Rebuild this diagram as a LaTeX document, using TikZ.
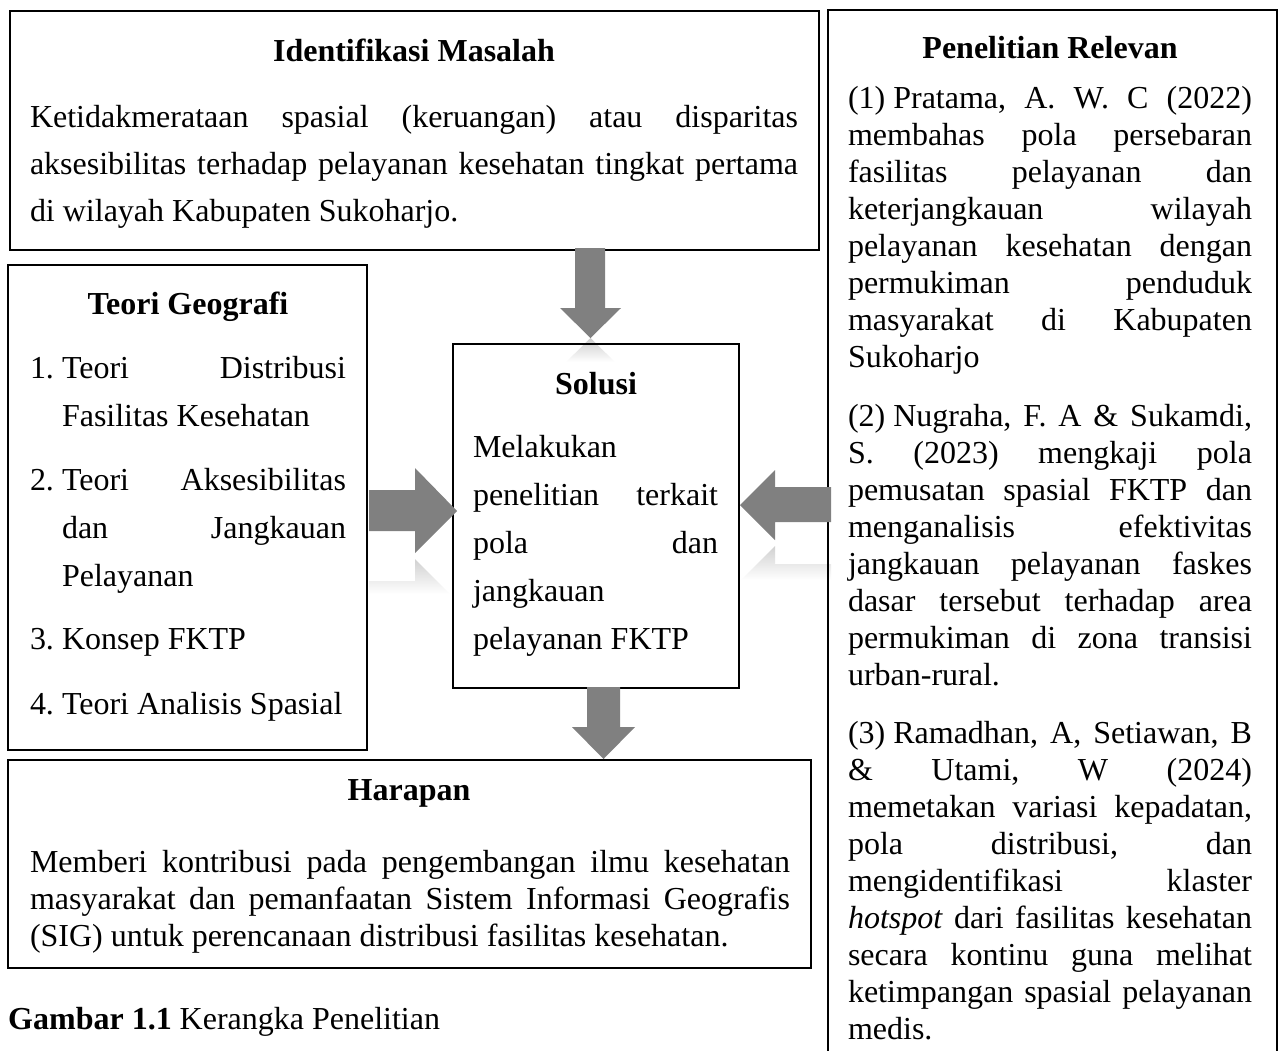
\documentclass[tikz,border=0pt]{standalone}
\usepackage{fontspec}
\setmainfont{Liberation Serif}
\usetikzlibrary{calc}
\definecolor{arrgray}{RGB}{128,128,128}
\frenchspacing
\newcommand{\rs}{\spaceskip=0pt\xspaceskip=0pt\relax}
\newcommand{\jl}[1]{\makebox[\linewidth][s]{\rs #1}}
\begin{document}
\begin{tikzpicture}[x=1pt,y=-1pt]
\tikzset{
  box/.style={draw=black,line width=1.4pt,inner sep=0pt,outer sep=0pt,anchor=north west},
  ttl/.style={inner sep=0pt,outer sep=0pt,anchor=base,font=\fontsize{32}{38}\selectfont\bfseries},
  bodytext/.style={inner sep=0pt,outer sep=0pt,anchor=base west,align=left,text width=#1},
  wide/.style={font=\fontsize{32}{47}\selectfont},
  wider/.style={font=\fontsize{32}{48}\selectfont},
  tight/.style={font=\fontsize{32}{37}\selectfont},
  blockarrow/.style={fill=arrgray,draw=none},
  refl/.style={top color=arrgray!40,bottom color=white,draw=none}
}
\useasboundingbox (0,0) rectangle (1280,1050);
\fill[white] (0,0) rectangle (1280,1050);

% reflections of the block arrows
\begin{scope}
  \clip (590.5,338) -- (621,368) -- (560,368) -- cycle;
  \shade[refl] (555,338) rectangle (625,362);
\end{scope}
\begin{scope}
  \clip (369,581) -- (415,581) -- (415,559) -- (457,601) -- (415,644) -- (415,622) -- (369,622) -- cycle;
  \shade[refl] (365,556) rectangle (460,594);
\end{scope}
\begin{scope}
  \clip (831,564) -- (775,564) -- (775,546) -- (740,581) -- (775,616) -- (775,599) -- (831,599) -- cycle;
  \shade[refl] (735,543) rectangle (835,580);
\end{scope}

% boxes
\node[box,minimum width=809pt,minimum height=239pt] (ident) at (10,11) {};
\draw[line width=1.4pt] (828,1052) -- (828,10) -- (1277,10) -- (1277,1052);
\coordinate (relevan) at (1052,10);
\node[box,minimum width=359pt,minimum height=485pt] (teori) at (8,265) {};
\node[box,minimum width=286pt,minimum height=344pt] (solusi) at (453,344) {};
\node[box,minimum width=803pt,minimum height=208pt] (harapan) at (8,760) {};

% block arrows
\fill[blockarrow] (575,248) -- (605,248) -- (605,308) -- (621,308) -- (590.5,338) -- (560,308) -- (575,308) -- cycle;
\fill[blockarrow] (369,490) -- (415,490) -- (415,468) -- (457,511) -- (415,553) -- (415,531) -- (369,531) -- cycle;
\fill[blockarrow] (831,487) -- (775,487) -- (775,470) -- (740,505) -- (775,540) -- (775,522) -- (831,522) -- cycle;
\fill[blockarrow] (587,687) -- (620,687) -- (620,727) -- (635,727) -- (603.5,759) -- (572,727) -- (587,727) -- cycle;

% Identifikasi Masalah
\node[ttl] (identT) at (414,61) {Identifikasi Masalah};
\node[bodytext=768pt,wide] (identB) at (30,127) {\rs
\jl{Ketidakmerataan spasial (keruangan) atau disparitas}\\
\jl{aksesibilitas terhadap pelayanan kesehatan tingkat pertama}\\
di wilayah Kabupaten Sukoharjo.};

% Penelitian Relevan
\node[ttl] (relT) at (1050,58) {Penelitian Relevan};
\node[bodytext=404pt,tight] (rel1) at (848,108) {\rs
\jl{\mbox{(1) Pratama,} A. W. C (2022)}\\
\jl{membahas pola persebaran}\\
\jl{fasilitas pelayanan dan}\\
\jl{keterjangkauan wilayah}\\
\jl{pelayanan kesehatan dengan}\\
\jl{permukiman penduduk}\\
\jl{masyarakat di Kabupaten}\\
Sukoharjo};
\node[bodytext=404pt,tight] (rel2) at (848,426) {\rs
\jl{\mbox{(2) Nugraha,} F. A \& Sukamdi,}\\
\jl{S. (2023) mengkaji pola}\\
\jl{pemusatan spasial FKTP dan}\\
\jl{menganalisis efektivitas}\\
\jl{jangkauan pelayanan faskes}\\
\jl{dasar tersebut terhadap area}\\
\jl{permukiman di zona transisi}\\
urban-rural.};
\node[bodytext=404pt,tight] (rel3) at (848,743) {\rs
\jl{\mbox{(3) Ramadhan,} A, Setiawan, B}\\
\jl{\& Utami, W (2024)}\\
\jl{memetakan variasi kepadatan,}\\
\jl{pola distribusi, dan}\\
\jl{mengidentifikasi klaster}\\
\jl{\textit{hotspot} dari fasilitas kesehatan}\\
\jl{secara kontinu guna melihat}\\
\jl{ketimpangan spasial pelayanan}\\
medis.};

% Teori Geografi
\node[ttl] (teoriT) at (188,314) {Teori Geografi};
\node[bodytext=30pt,wider] (n1) at (30,378) {1.};
\node[bodytext=284pt,wider] (t1) at (62,378) {\rs
\jl{Teori Distribusi}\\
Fasilitas Kesehatan};
\node[bodytext=30pt,wider] (n2) at (30,490) {2.};
\node[bodytext=284pt,wider] (t2) at (62,490) {\rs
\jl{Teori Aksesibilitas}\\
\jl{dan Jangkauan}\\
Pelayanan};
\node[bodytext=30pt,wider] (n3) at (30,649) {3.};
\node[bodytext=284pt,wider] (t3) at (62,649) {\rs Konsep FKTP};
\node[bodytext=30pt,wider] (n4) at (30,714) {4.};
\node[bodytext=300pt,wider] (t4) at (62,714) {\rs Teori Analisis Spasial};

% Solusi
\node[ttl] (solT) at (596,394) {Solusi};
\node[bodytext=245pt,wider] (solB) at (473,457) {\rs
Melakukan\\
\jl{penelitian terkait}\\
\jl{pola dan}\\
jangkauan\\
pelayanan FKTP};

% Harapan
\node[ttl] (harT) at (409,800) {Harapan};
\node[bodytext=760pt,tight] (harB) at (30,872) {\rs
\jl{Memberi kontribusi pada pengembangan ilmu kesehatan}\\
\jl{masyarakat dan pemanfaatan Sistem Informasi Geografis}\\
(SIG) untuk perencanaan distribusi fasilitas kesehatan.};

% caption
\node[inner sep=0pt,anchor=base west,font=\fontsize{32}{38}\selectfont] (cap) at (8,1029) {\textbf{Gambar 1.1} Kerangka Penelitian};
\end{tikzpicture}
\end{document}
